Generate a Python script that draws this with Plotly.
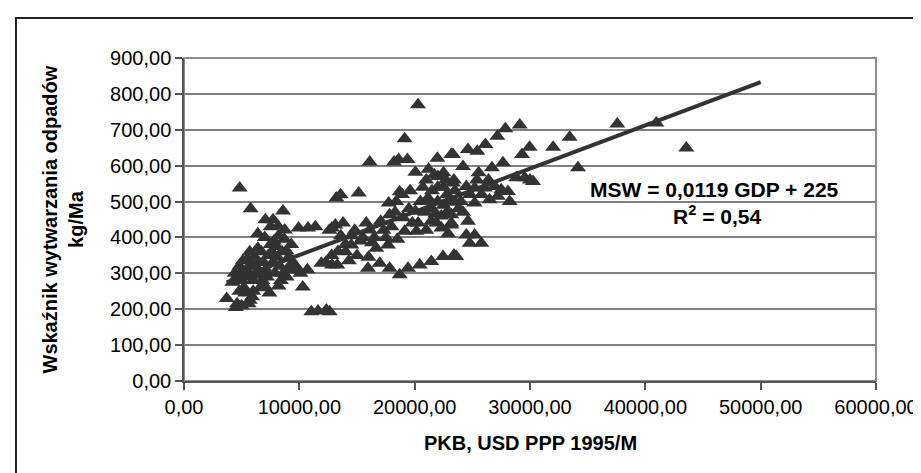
import plotly.graph_objects as go

# GDP per capita (PKB, USD PPP 1995) and municipal waste (kg/Ma)
gdp = [
    # low-income cluster
    3700, 4500, 4600, 5000, 5600, 5700, 5900, 4200, 4700, 5000, 5300, 4900, 5600, 6000,
    6300, 5800, 5500, 6100, 6700, 6500, 7100, 7400, 6800, 7200, 7700, 8100, 8300, 7600,
    8000, 8700, 8900, 9300, 8600, 8900, 9700, 10300, 10700, 4830, 5780, 7050, 7720, 8580,
    7510, 8150, 8730, 9940, 10750, 11390, 12830, 11040, 11620, 12340, 11910, 12830, 6000,
    5200, 7000, 6400, 7900, 8400, 9100, 9600, 10100,
    4400, 4800, 5100, 5400, 5700, 6200, 6600, 6900, 7300, 7500, 7800, 8200, 8500, 6100,
    5300, 4800, 6600, 8200, 9000, 9400, 7000, 6400,
    # middle band
    13210, 13580, 15150, 16100, 18210, 18610, 19370, 19130, 20290, 20060, 18700, 17750,
    18400, 13120, 13790, 12600, 16100, 17050, 17830, 20060, 19130, 20150, 17690, 16670,
    14510, 13350, 14000, 12800, 13290, 12300, 15950, 16970, 17830, 18700, 19420, 20440,
    21440, 22460, 23410, 12630, 15500, 14500, 16500, 18900, 19500, 18000, 17300, 14000,
    15300, 19800, 20500,
    14800, 15800, 16300, 17500, 18500, 13600, 15000, 16000, 14300, 18300, 19000,
    # high-income cluster
    22020, 22700, 23400, 21160, 21440, 22320, 23180, 21970, 23180, 23320, 24620, 25430,
    26130, 27170, 27860, 29110, 29970, 29310, 24190, 26700, 27660, 25550, 28820, 29540,
    30260, 23320, 24480, 25200, 26070, 26940, 27510, 28090, 26500, 28240, 25200, 23500,
    24000, 23180, 23180, 24620, 24480, 25200, 24770, 25780, 23610, 22000, 21500, 22500,
    22800, 21800, 24200, 25800, 22300, 21000, 20700, 21200,
    21000, 21500, 22000, 22500, 23000, 23500, 22500, 21700, 22800, 23800, 24800, 25400,
    26400, 27200, 21300, 22900, 21900, 20900, 20300, 19600,
    # richest
    32000, 33440, 34160, 37570, 40950, 43550, 30000,
]
msw = [
    230, 205, 215, 210, 215, 225, 235, 275, 290, 280, 300, 300, 290, 280,
    300, 320, 340, 345, 360, 330, 310, 245, 280, 290, 330, 345, 320, 360,
    375, 395, 362, 380, 300, 290, 320, 262, 310, 538, 480, 449, 449, 474,
    430, 431, 421, 426, 426, 430, 426, 193, 195, 198, 328, 323, 250,
    260, 265, 370, 300, 280, 345, 310, 300,
    300, 320, 335, 310, 360, 320, 300, 330, 350, 380, 390, 405, 360, 295,
    245, 250, 260, 265, 310, 330, 400, 410,
    510, 519, 524, 610, 610, 617, 617, 675, 770, 582, 527, 496,
    500, 435, 440, 420, 421, 445, 463, 473, 417, 417, 379, 370,
    379, 361, 360, 350, 323, 330, 314, 328, 314, 296, 314, 323,
    333, 347, 351, 193, 400, 405, 400, 520, 480, 430, 420, 380,
    390, 440, 500,
    420, 440, 385, 400, 395, 405, 350, 345, 335, 470, 455,
    570, 560, 560, 510, 445, 426, 435, 621, 631, 631, 645, 640,
    659, 682, 703, 713, 651, 631, 598, 594, 608, 580, 566, 566,
    556, 552, 542, 538, 538, 542, 533, 528, 505, 500, 496, 498,
    500, 463, 440, 445, 407, 407, 384, 384, 347, 540, 480, 490,
    520, 465, 470, 520, 460, 420, 540, 590,
    560, 530, 500, 540, 500, 530, 580, 575, 470, 480, 520, 560,
    560, 515, 500, 410, 440, 470, 440, 530,
    651, 679, 594, 716, 719, 649, 560,
]

# linear trend as drawn on the chart (end points)
trend_x = [3700, 50000]
trend_y = [275, 833]

x_ticks = [0, 10000, 20000, 30000, 40000, 50000, 60000]
x_labels = ["0,00", "10000,00", "20000,00", "30000,00", "40000,00", "50000,00", "60000,00"]
y_ticks = [0, 100, 200, 300, 400, 500, 600, 700, 800, 900]
y_labels = ["0,00", "100,00", "200,00", "300,00", "400,00", "500,00", "600,00",
            "700,00", "800,00", "900,00"]

eq_text = "MSW = 0,0119 GDP + 225"
r2_text = "R<sup>2</sup> = 0,54"
x_title = "PKB, USD PPP 1995/M"
y_title = "Wskaźnik wytwarzania odpadów<br>kg/Ma"

FONT = "Liberation Sans, Arial, sans-serif"
DARK = "#333333"

fig = go.Figure()
fig.add_trace(go.Scatter(
    x=gdp, y=msw, mode="markers",
    marker=dict(symbol="triangle-up", size=14, color=DARK, line=dict(width=0)),
    showlegend=False, hoverinfo="skip",
))
fig.add_trace(go.Scatter(
    x=trend_x, y=trend_y, mode="lines",
    line=dict(color=DARK, width=4),
    showlegend=False, hoverinfo="skip",
))

fig.update_layout(
    width=921, height=473,
    margin=dict(l=176, r=53, t=50, b=100),
    paper_bgcolor="white", plot_bgcolor="white",
    font=dict(family=FONT, size=20, color="black"),
    xaxis=dict(
        range=[0, 60000], tickvals=x_ticks, ticktext=x_labels,
        showgrid=False, zeroline=False,
        showline=True, linecolor="#555555", linewidth=1.5,
        ticks="outside", ticklen=7, tickcolor="#555555", tickwidth=1.5,
        tickfont=dict(family=FONT, size=20, color="black"),
    ),
    yaxis=dict(
        range=[0, 900], tickvals=y_ticks, ticktext=y_labels,
        showgrid=True, gridcolor="#808080", gridwidth=1.5, zeroline=False,
        showline=True, linecolor="#555555", linewidth=1.5,
        ticks="outside", ticklen=7, tickcolor="#555555", tickwidth=1.5,
        tickfont=dict(family=FONT, size=20, color="black"),
    ),
    shapes=[
        dict(type="rect", xref="paper", yref="paper", x0=0, x1=1, y0=0, y1=1,
             line=dict(color="#8c8c8c", width=2), layer="below"),
        dict(type="rect", xref="paper", yref="paper", x0=-0.2428, x1=1.12,
             y0=-0.40, y1=1.1238, line=dict(color="#222222", width=2)),
    ],
    annotations=[
        dict(text="<b>" + eq_text + "</b>", xref="paper", yref="paper",
             x=0.766, y=0.5944, xanchor="center", yanchor="middle", showarrow=False,
             borderpad=0, font=dict(family=FONT, size=21, color="black")),
        dict(text="<b>" + r2_text + "</b>", xref="paper", yref="paper",
             x=0.770, y=0.5139, xanchor="center", yanchor="middle", showarrow=False,
             borderpad=0, font=dict(family=FONT, size=21, color="black")),
        dict(text="<b>" + x_title + "</b>", xref="paper", yref="paper",
             x=0.5, y=-0.192, xanchor="center", yanchor="middle", showarrow=False,
             font=dict(family=FONT, size=20, color="black")),
        dict(text="<b>" + y_title + "</b>", xref="paper", yref="paper",
             x=-0.1763, y=0.5, xanchor="center", yanchor="middle", showarrow=False,
             textangle=-90, font=dict(family=FONT, size=20, color="black")),
    ],
)

fig.write_html("out.html")
